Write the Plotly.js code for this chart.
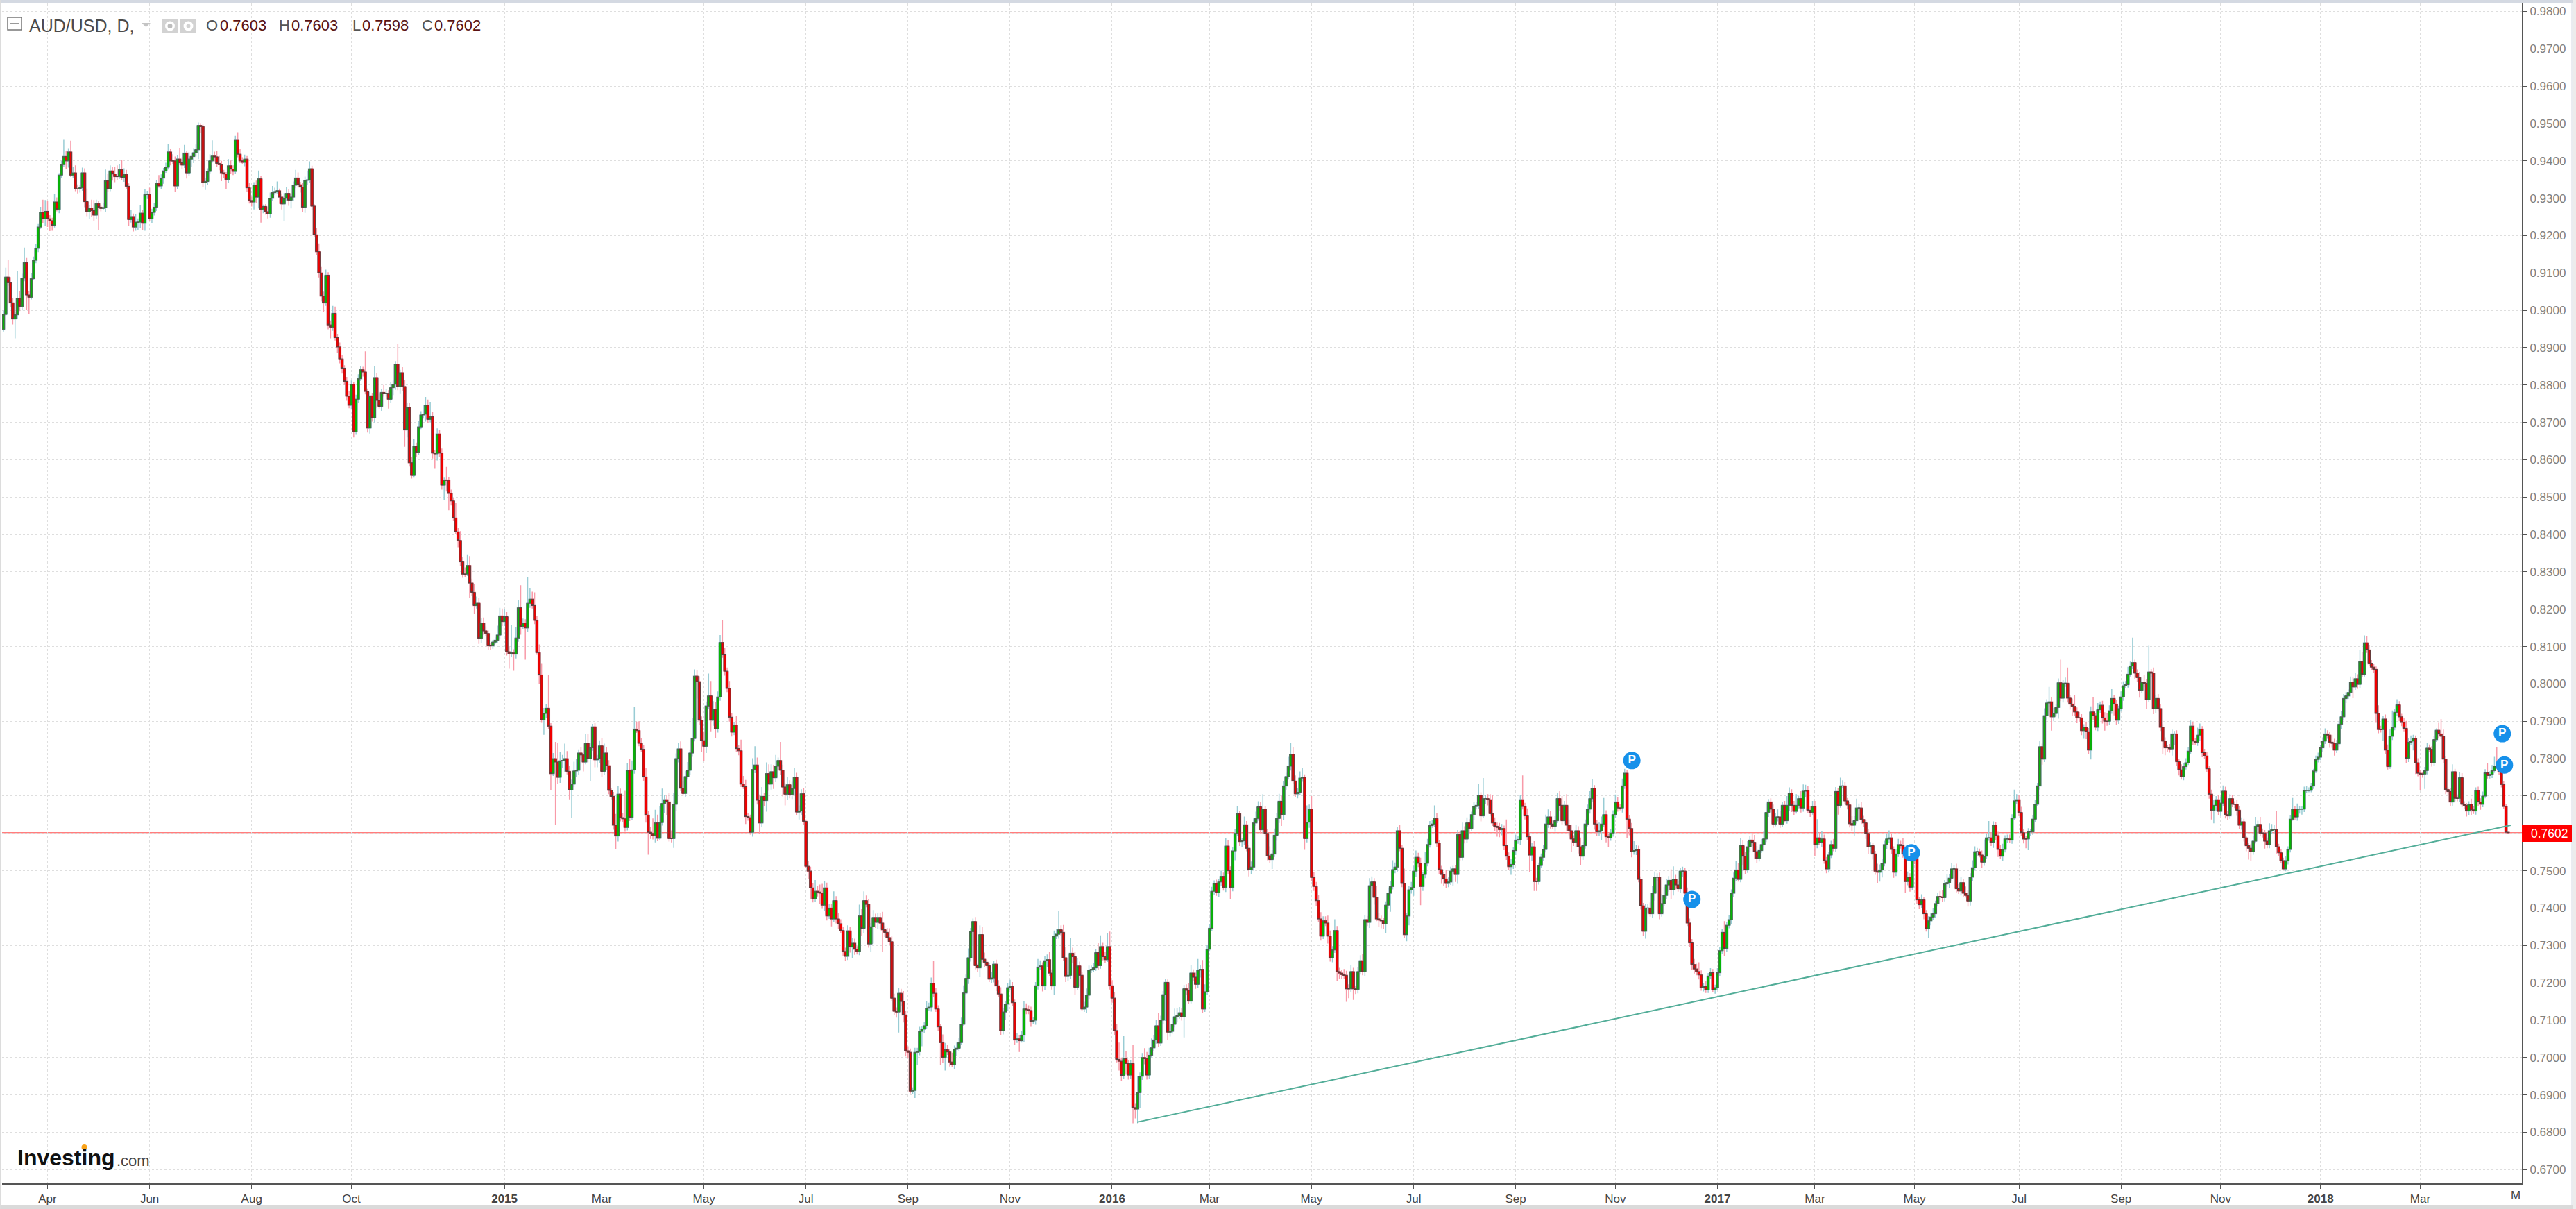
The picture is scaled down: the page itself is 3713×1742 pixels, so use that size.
<!DOCTYPE html>
<html>
<head>
<meta charset="utf-8">
<script src="https://cdn.plot.ly/plotly-3.0.1.min.js"></script>
<style>html,body{margin:0;padding:0;background:#fff;overflow:hidden}</style>
</head>
<body>
<div id="chart" style="width:3713px;height:1742px"></div>
<script>
// Bar number at which each two-month block starts, and its axis label
const blockStart = [0,19,63,107,150,216,258,302,346,390,434,478,520,564,608,652,695,739,781,824,869,913,956,999,1042];
const tickBars = [19,63,107,150,216,258,302,346,390,434,478,520,564,608,652,695,739,781,824,869,913,956,999,1042,1085];
const tickLabels = ["Apr","Jun","Aug","Oct","<b>2015</b>","Mar","May","Jul","Sep","Nov","<b>2016</b>","Mar","May","Jul","Sep","Nov","<b>2017</b>","Mar","May","Jul","Sep","Nov","<b>2018</b>","Mar",""];

// Closes in pips, one inner list per block
const firstOpen = 8949;
const close2014 = [
[8989,9089,9074,9020,8977,8988,9032,9010,9086,9128,9041,9035,9085,9134,9166,9223,9262,9245,9265],
[9245,9240,9228,9290,9270,9362,9390,9412,9400,9424,9362,9368,9325,9325,9328,9368,9291,9264,9274,9267,9255,9286,9276,9273,9275,9347,9325,9373,9365,9358,9358,9377,9356,9364,9332,9243,9251,9223,9236,9236,9260,9233,9310,9310],
[9245,9262,9276,9340,9333,9354,9373,9383,9424,9400,9400,9333,9405,9395,9389,9421,9368,9405,9412,9422,9430,9495,9492,9342,9345,9372,9400,9413,9411,9393,9390,9368,9365,9350,9387,9378,9372,9457,9418,9400,9396,9405,9328,9294],
[9290,9335,9303,9352,9270,9278,9264,9258,9300,9315,9318,9320,9303,9285,9300,9313,9295,9303,9335,9354,9336,9330,9276,9348,9349,9379,9279,9202,9157,9100,9038,9020,9094,8961,8955,8992,8927,8902,8870,8845,8810,8770,8746],
[8802,8675,8762,8817,8841,8835,8783,8685,8771,8712,8820,8759,8743,8780,8777,8778,8762,8793,8802,8856,8796,8833,8796,8680,8740,8592,8558,8636,8620,8688,8720,8722,8746,8708,8715,8618,8616,8669,8618,8532,8546,8545,8510,8490,8444,8407,8384,8327,8294,8294,8317,8270,8245,8210,8216,8122,8163,8142,8135,8102,8102,8112,8117,8131,8182,8167]
];
const close2015 = [
[8180,8086,8081,8083,8080,8123,8204,8154,8163,8150,8216,8227,8210,8170,8084,8024,7904,7921,7935,7887,7760,7800,7791,7750,7794,7795,7800,7766,7716,7732,7767,7769,7815,7810,7791,7841,7800,7829,7885,7797,7800,7834],
[7766,7815,7781,7715,7699,7622,7593,7705,7642,7639,7616,7769,7643,7770,7879,7875,7841,7825,7751,7649,7603,7600,7594,7628,7587,7629,7680,7690,7684,7586,7586,7678,7800,7826,7721,7707,7752,7769,7815,7854,8021,8006,7903,7848],
[7833,7941,7968,7903,7932,7880,7965,8111,8078,8034,7988,7911,7871,7890,7827,7821,7732,7725,7645,7642,7603,7771,7783,7689,7628,7699,7688,7760,7732,7765,7749,7780,7795,7769,7724,7705,7730,7704,7720,7750,7657,7660,7706,7632],
[7512,7499,7454,7425,7445,7443,7440,7408,7454,7379,7400,7371,7420,7371,7358,7340,7284,7271,7339,7296,7306,7290,7284,7379,7346,7420,7410,7304,7350,7375,7362,7375,7360,7342,7335,7321,7310,7159,7124,7122,7172,7150,7114,7018],
[7014,6910,6912,7014,7016,7070,7076,7085,7132,7135,7199,7172,7130,7082,7040,7000,7021,7015,6988,6981,7022,7025,7040,7089,7173,7212,7267,7337,7364,7246,7240,7329,7263,7255,7246,7210,7213,7250,7192,7170,7072,7122,7143,7187],
[7190,7147,7047,7050,7045,7060,7130,7128,7126,7097,7100,7192,7242,7245,7192,7259,7262,7226,7192,7325,7330,7342,7335,7267,7217,7220,7279,7270,7188,7245,7220,7130,7135,7167,7234,7236,7240,7281,7246,7297,7270,7262,7297,7192]
];
const close2016 = [
[7159,7072,6995,6990,6952,6997,6984,6953,6984,6866,6862,6906,6950,7000,6997,6953,7006,7026,7047,7085,7039,7100,7168,7201,7068,7070,7089,7109,7112,7120,7109,7184,7180,7151,7226,7215,7196,7234,7236,7130,7176,7290],
[7346,7445,7466,7441,7470,7485,7455,7566,7500,7455,7553,7600,7653,7578,7580,7623,7560,7503,7510,7628,7640,7671,7610,7665,7600,7540,7530,7545,7595,7640,7686,7650,7727,7752,7780,7812,7740,7706,7710,7748,7750,7586,7630,7665],
[7482,7458,7420,7371,7325,7366,7360,7325,7267,7288,7340,7230,7226,7222,7220,7184,7184,7230,7184,7182,7230,7259,7230,7369,7362,7460,7470,7429,7371,7368,7366,7358,7408,7440,7458,7503,7510,7607,7560,7466,7329,7379,7449,7455],
[7499,7536,7520,7458,7490,7520,7570,7621,7625,7640,7574,7503,7490,7478,7466,7470,7499,7505,7490,7597,7536,7607,7585,7628,7613,7650,7672,7675,7702,7647,7693,7693,7690,7653,7628,7619,7616,7610,7613,7567,7539,7511,7517,7554],
[7582,7583,7690,7672,7647,7591,7542,7564,7471,7471,7514,7536,7557,7625,7644,7625,7619,7634,7693,7675,7634,7675,7622,7607,7585,7576,7607,7564,7539,7567,7625,7665,7693,7721,7625,7604,7607,7625,7650,7591,7588,7601,7650],
[7684,7668,7668,7727,7761,7638,7613,7551,7554,7557,7477,7406,7338,7400,7400,7385,7440,7483,7483,7385,7412,7434,7462,7474,7449,7477,7462,7452,7499,7499,7440,7360,7307,7249,7237,7230,7221,7187,7190,7181,7218,7227,7181,7187]
];
const close2017 = [
[7227,7286,7335,7292,7354,7369,7440,7480,7502,7477,7567,7539,7502,7564,7582,7576,7551,7533,7554,7570,7585,7656,7684,7665,7625,7644,7644,7625,7675,7634,7675,7708,7675,7659,7675,7693,7668,7713,7715,7662,7656,7672],
[7570,7588,7576,7585,7527,7505,7542,7570,7560,7712,7675,7727,7727,7687,7676,7626,7622,7634,7668,7668,7637,7628,7600,7564,7567,7545,7499,7496,7502,7520,7570,7585,7588,7557,7496,7545,7570,7567,7545,7471,7483,7456,7539],
[7533,7422,7409,7422,7385,7345,7366,7376,7385,7412,7431,7430,7428,7465,7468,7480,7505,7505,7452,7446,7468,7440,7434,7419,7483,7508,7551,7551,7542,7523,7539,7588,7588,7576,7622,7594,7557,7539,7557,7585,7585,7582,7641,7687,7690],
[7656,7602,7585,7585,7604,7604,7638,7678,7727,7832,7799,7915,7949,7952,7912,7921,7937,8003,7962,8002,8002,7962,7946,7940,7925,7910,7909,7875,7884,7872,7823,7925,7915,7884,7931,7943,7909,7900,7900,7928,7961,7946,7903,7934],
[7965,7995,7998,8026,8048,8057,8029,8017,7983,8005,8002,7958,8032,8029,7934,7961,7934,7884,7847,7829,7829,7826,7866,7866,7792,7770,7752,7779,7789,7820,7887,7847,7844,7863,7879,7816,7807,7773,7705,7662,7675,7690,7659],
[7681,7713,7650,7647,7693,7678,7678,7662,7622,7631,7588,7567,7560,7551,7579,7619,7624,7601,7601,7579,7570,7607,7610,7610,7564,7548,7527,7505,7527,7557,7638,7665,7644,7665,7665,7665,7715,7715,7715,7727,7767,7798,7804]
];
const close2018 = [
[7829,7847,7866,7863,7844,7841,7823,7840,7892,7912,7961,7968,7977,8005,7992,8014,7999,8060,8026,8110,8091,8054,8045,8039,7921,7878,7878,7906,7823,7779,7860,7884,7924,7944,7912,7897,7881,7801,7844,7847,7854,7789,7761],
[7759,7759,7768,7828,7825,7789,7851,7876,7866,7860,7799,7717,7712,7684,7765,7694,7694,7749,7678,7675,7660,7678,7663,7660,7715,7684,7678,7700,7762,7755,7758,7768,7780,7777,7765,7731,7672,7603,7602]
];

// Wick lengths above and below each body, in pips
const upper2014 = [
[10,25,45,15,12,8,74,20,12,40,12,10,15,10,12,8,15,34,30],
[28,10,8,22,12,5,10,46,14,10,30,15,20,12,8,14,12,35,8,22,28,10,8,6,12,30,18,15,10,18,30,14,25,16,12,8,18,8,22,10,22,8,15,10],
[18,10,12,8,22,10,8,12,22,8,18,12,10,30,15,22,5,18,10,12,14,8,6,5,10,8,18,42,12,15,20,10,8,5,18,14,10,10,20,15,10,12,8,14],
[10,8,12,22,8,5,6,14,15,18,10,25,6,10,14,16,12,8,10,22,15,8,12,10,25,20,8,5,18,22,18,12,15,8,12,20,18,10,12,10,8,12,15],
[10,6,12,12,10,8,55,8,10,8,30,12,18,10,20,12,8,15,10,8,55,8,15,18,12,12,15,20,10,15,10,25,22,15,40,12,8,15,10,12,6,35,8,10,8,40,10,25,12,18,30,25,12,22,18,15,14,15,12,8,6,6,8,25,22,20]
];
const lower2014 = [
[6,5,8,12,15,52,10,12,10,8,40,45,6,5,8,10,5,12,18],
[22,28,15,6,5,10,8,6,22,18,5,8,6,12,10,8,15,12,20,18,15,10,60,8,5,12,8,6,18,15,10,6,8,12,8,18,8,12,10,22,15,18,20,12],
[6,12,8,10,5,8,15,5,6,12,8,15,8,6,10,8,15,8,22,18,10,25,18,12,20,10,6,5,12,8,15,22,10,25,8,12,10,6,8,6,5,10,12,8],
[12,20,15,30,35,10,8,12,10,8,6,5,18,15,45,8,15,22,10,8,6,15,12,15,12,8,10,5,10,12,14,25,8,12,30,10,8,15,12,14,10,12,8],
[12,15,8,10,6,12,8,12,15,10,12,20,6,12,8,8,25,10,20,15,10,18,12,45,20,10,8,6,12,8,6,10,20,10,8,15,40,18,10,12,40,30,45,12,8,6,18,12,10,8,5,40,10,22,8,15,12,10,8,10,12,8,5,6,10,12]
];
const upper2015 = [
[20,12,15,75,10,30,20,60,12,10,70,30,20,35,12,22,30,15,10,90,8,15,45,50,25,15,40,20,15,12,25,30,10,15,30,25,25,12,8,10,10,15],
[22,25,15,15,6,12,30,22,15,12,75,20,30,25,60,20,25,15,12,25,10,15,40,35,22,45,40,12,12,25,22,30,14,15,20,20,15,22,10,55,18,15,15,10],
[25,12,60,40,22,20,15,20,60,18,10,20,12,8,25,10,30,22,18,10,8,30,50,20,15,25,10,30,25,20,18,30,8,50,15,10,20,12,18,25,12,15,12,15],
[5,15,12,12,30,15,20,25,18,14,12,10,25,12,15,12,10,10,15,10,15,12,8,30,18,25,14,15,10,20,10,12,12,30,10,12,25,14,12,10,15,12,28,12],
[12,10,8,12,10,12,8,10,20,12,15,60,14,10,8,22,18,12,8,25,10,15,12,18,20,10,25,10,8,12,5,25,20,18,6,8,15,8,12,15,18,10,8,12],
[18,12,8,15,10,10,22,15,12,10,8,10,22,15,10,12,14,20,10,15,15,50,12,20,30,8,40,15,12,20,12,10,14,18,12,10,12,10,25,30,10,12,35,40]
];
const lower2015 = [
[12,10,40,8,45,12,10,22,8,85,10,12,8,10,6,25,8,40,12,8,45,6,168,18,15,20,30,8,25,75,8,15,12,8,25,6,10,60,8,20,20,12],
[15,10,12,10,8,12,35,15,10,8,12,8,10,8,10,6,8,8,10,20,60,15,10,18,8,6,8,25,35,8,10,25,18,10,8,6,10,8,12,10,8,45,12,30],
[40,18,8,30,15,25,10,10,8,12,10,12,12,8,10,12,8,6,20,8,6,12,10,12,30,10,15,30,18,15,30,12,10,12,25,30,15,10,12,18,8,20,12,10],
[5,20,30,10,8,12,30,10,15,12,8,20,8,12,15,8,12,12,10,15,30,15,8,10,20,12,8,10,20,45,15,18,15,60,12,8,8,8,10,15,55,12,20,15],
[15,6,8,20,35,10,40,10,8,6,12,10,8,10,60,15,35,8,12,6,12,18,8,5,6,6,15,10,35,10,12,25,8,12,6,8,10,12,14,8,12,10,22,18],
[6,10,12,8,30,5,18,12,10,15,8,12,10,8,15,12,18,8,10,25,8,12,10,8,15,12,10,18,20,8,30,5,8,15,10,8,6,8,12,8,10,8,6,10]
];
const upper2016 = [
[15,15,18,45,10,60,20,10,8,50,12,45,10,12,25,18,20,25,12,15,35,12,10,10,8,10,20,22,20,15,12,10,12,20,22,10,12,30,12,25,20,12],
[10,12,8,10,8,15,10,22,15,12,10,12,20,8,8,22,10,8,15,12,18,15,12,40,8,12,25,10,18,15,20,15,12,10,25,30,20,15,12,18,25,8,45,12],
[35,15,12,15,18,12,12,20,15,10,30,12,10,8,15,12,12,18,10,8,12,15,18,12,10,20,15,10,30,15,12,8,10,15,14,25,12,10,15,10,40,8,10,15],
[14,18,12,15,8,30,15,12,10,35,15,8,10,6,25,12,12,8,10,12,8,22,12,15,10,8,12,8,30,8,55,10,12,15,50,15,10,12,12,8,70,10,15,10],
[15,10,12,65,10,20,12,10,15,10,8,10,12,25,20,15,10,12,15,20,25,12,30,15,15,10,15,12,25,10,12,12,20,25,8,10,22,20,45,12,8,10,12],
[20,12,10,20,12,8,10,15,25,12,10,8,8,12,10,15,20,15,10,12,25,22,15,12,30,35,12,10,8,12,8,15,12,10,15,14,25,12,10,15,8,12,10,8]
];
const lower2016 = [
[12,12,8,25,15,10,30,12,10,42,25,38,40,10,15,12,10,6,8,10,10,8,10,70,20,12,6,8,15,8,10,55,12,8,6,10,12,10,20,10,8,8],
[5,8,10,8,12,10,8,12,10,30,10,25,8,12,15,10,8,18,12,10,8,6,10,12,8,12,10,25,8,15,12,30,15,10,8,12,8,10,12,8,10,30,10,15],
[10,12,15,8,12,8,8,20,10,12,8,25,15,12,10,35,25,10,30,12,10,8,10,12,10,15,8,20,6,18,20,15,25,10,50,8,10,12,8,10,8,18,25,10],
[22,15,10,50,12,10,8,8,6,8,10,12,25,18,12,10,8,40,20,25,10,8,12,10,12,6,15,8,10,15,6,14,15,6,8,12,25,20,15,12,10,8,22,12],
[12,10,15,8,10,8,45,15,25,25,8,6,10,8,10,12,8,15,6,15,10,8,15,12,35,10,12,18,25,10,8,6,12,10,15,12,10,25,8,15,25,8,10],
[8,10,6,12,8,50,18,15,8,12,8,10,12,20,15,8,12,20,10,15,8,6,10,18,25,15,12,8,12,15,10,8,12,15,12,10,12,8,10,8,8,8,6,10]
];
const upper2017 = [
[12,10,10,30,8,12,10,15,25,18,20,15,12,15,10,18,20,15,8,15,20,25,8,10,12,10,20,15,8,12,25,15,10,12,30,8,20,18,15,12,10,15],
[15,50,15,20,12,10,8,10,15,12,10,22,15,10,8,8,20,12,25,12,15,10,8,12,10,8,8,20,15,12,10,15,20,10,8,12,15,10,20,12,15,10,18],
[10,12,8,15,8,10,12,10,15,8,10,15,18,10,22,12,15,10,14,12,15,10,18,15,10,20,14,10,8,12,45,12,45,15,10,8,10,12,15,10,12,12,10,30,15],
[12,15,10,8,10,8,10,12,8,15,8,20,10,40,12,15,10,12,62,8,15,42,8,15,30,12,15,10,8,15,10,15,40,8,18,10,12,15,22,15,25,10,12,8],
[15,12,10,20,12,67,8,10,15,12,18,12,70,8,15,10,12,12,8,10,8,10,12,8,10,8,15,10,12,10,15,10,8,20,15,8,10,12,8,12,15,10,12],
[15,15,12,10,12,10,8,12,10,12,8,6,8,12,15,25,10,20,12,8,10,20,15,12,50,8,10,8,12,8,10,30,8,15,8,8,10,12,8,8,6,10,12]
];
const lower2017 = [
[6,10,8,20,10,8,12,10,8,6,8,25,10,8,15,10,20,12,8,6,5,8,12,8,10,6,12,10,8,5,8,15,18,10,6,8,12,10,15,8,12,6],
[30,10,8,12,8,12,10,8,8,10,25,6,5,8,12,10,15,30,8,6,12,10,15,20,18,15,10,30,25,20,8,12,10,12,15,10,8,8,10,30,10,12,8],
[15,10,12,10,15,8,25,12,8,10,8,10,12,10,8,15,6,10,10,8,12,10,6,15,12,10,8,12,6,15,10,8,8,10,15,12,20,8,12,8,10,8,10,6,8],
[10,8,12,25,30,12,8,8,6,10,15,8,10,10,37,12,8,30,8,12,10,12,15,25,10,15,10,12,22,20,10,25,12,8,10,8,15,25,12,10,8,30,12,10],
[8,10,6,8,6,8,15,12,20,8,10,25,6,10,15,12,8,10,35,20,12,10,18,30,12,15,8,10,8,6,8,10,8,10,15,12,8,10,12,25,35,15,10],
[12,8,10,12,8,8,10,15,10,12,10,15,30,25,8,6,10,8,12,20,10,10,8,12,18,8,6,4,6,10,8,4,8,10,12,15,8,6,5,5,8,6,8]
];
const upper2018 = [
[8,10,15,10,8,20,12,10,8,15,12,10,8,15,12,15,12,30,25,20,18,12,10,8,8,22,10,8,12,15,20,45,10,15,10,8,12,20,12,15,10,8,12],
[8,6,10,15,10,8,10,5,20,40,18,8,6,10,20,8,10,15,12,8,6,8,15,10,8,10,10,12,10,25,8,15,25,50,8,10,8,6,0]
];
const lower2018 = [
[8,10,8,10,15,12,15,8,10,12,10,12,8,10,30,8,12,10,8,6,8,6,8,10,25,10,8,30,10,8,6,10,8,10,12,10,8,12,10,8,25,30,8],
[43,10,40,10,8,10,8,6,10,8,10,12,8,12,10,8,8,10,8,10,15,12,15,8,10,12,15,8,6,8,8,10,6,4,8,8,6,5,4]
];

// Trend line and "P" marks
const trendBars = [488.8,1081];
const trendPrices = [0.6827,0.7622];
const markBars = [702.1,728,822.6,1077.4,1078.3];
const markPrices = [0.7795,0.7423,0.7548,0.7867,0.7783];

const closeBlocks = [].concat(close2014,close2015,close2016,close2017,close2018);
const upperBlocks = [].concat(upper2014,upper2015,upper2016,upper2017,upper2018);
const lowerBlocks = [].concat(lower2014,lower2015,lower2016,lower2017,lower2018);

const bars=[],opens=[],closes=[],highs=[],lows=[],bodyHigh=[],bodyLow=[];
let prev = firstOpen;
closeBlocks.forEach((block,k)=>{
  block.forEach((c,j)=>{
    const o=prev, top=Math.max(o,c), bot=Math.min(o,c);
    bars.push(blockStart[k]+j);
    opens.push(o/1e4); closes.push(c/1e4);
    bodyHigh.push(top/1e4); bodyLow.push(bot/1e4);
    highs.push((top+(upperBlocks[k][j]||0))/1e4);
    lows.push((bot-(lowerBlocks[k][j]||0))/1e4);
    prev=c;
  });
});
const lastPrice = closes[closes.length-1];

const L=3,R=3635,T=5,B=1705;
const fx=p=>(p-L)/(R-L), fy=p=>(B-p)/(B-T);
const rect=(x0,y0,x1,y1,fill,line,lw)=>({type:'rect',xref:'paper',yref:'paper',x0:fx(x0),x1:fx(x1),y0:fy(y0),y1:fy(y1),fillcolor:fill||'rgba(0,0,0,0)',line:{color:line||'rgba(0,0,0,0)',width:lw||0},layer:'above'});
const circ=(cx,cy,r,fill)=>({type:'circle',xref:'paper',yref:'paper',x0:fx(cx-r),x1:fx(cx+r),y0:fy(cy-r),y1:fy(cy+r),fillcolor:fill,line:{width:0},layer:'above'});
const seg=(x0,y0,x1,y1,c,w)=>({type:'line',xref:'paper',yref:'paper',x0:fx(x0),x1:fx(x1),y0:fy(y0),y1:fy(y1),line:{color:c,width:w},layer:'above'});
const note=(px,py,text,size,color,anchor,family)=>({xref:'paper',yref:'paper',x:fx(px),y:fy(py),text:text,showarrow:false,xanchor:anchor||'left',yanchor:'middle',borderpad:0,
  font:{family:family||'"Liberation Sans",Arial,sans-serif',size:size,color:color}});

const shapes=[
  {type:'line',xref:'paper',yref:'y',x0:0,x1:1,y0:lastPrice,y1:lastPrice,line:{color:'#ff7d7d',width:1.5},layer:'below'},
  rect(0,0,3713,4,'#d4d9e2'),
  rect(0,1736,3713,1742,'#dadada'),
  rect(0,0,2,1742,'#dcdcdc'),
  rect(3708,0,3713,1742,'#ececec'),
  seg(3707,4,3707,1736,'#d4d9e2',1),
  rect(11,25,31,43,'#ffffff','#777777',1.5),
  seg(14,34,28,34,'#777777',1.5),
  {type:'path',xref:'paper',yref:'paper',path:`M ${fx(204)} ${fy(33)} L ${fx(217)} ${fy(33)} L ${fx(210.5)} ${fy(39)} Z`,fillcolor:'#c4c4c4',line:{width:0},layer:'above'},
  rect(234,27,256,48,'#d2d2d2'),circ(245,37.5,7,'#ffffff'),circ(245,37.5,3.5,'#bdbdbd'),
  rect(260,27,283,48,'#d2d2d2'),circ(271.5,37.5,7,'#ffffff'),circ(271.5,37.5,3,'#d2d2d2'),
  rect(3635,1188,3707,1213,'#ff0000'),
  circ(121.5,1653,4,'#f9a31a')
];
const annotations=[
  note(41,37,'AUD/USD, D,',25,'#4a4a4a'),
  note(296,37,'O',22,'#555555'),note(316,37,'0.7603',22,'#5a1212'),
  note(401,37,'H',22,'#555555'),note(419,37,'0.7603',22,'#5a1212'),
  note(507,37,'L',22,'#555555'),note(521,37,'0.7598',22,'#5a1212'),
  note(607,37,'C',22,'#555555'),note(625,37,'0.7602',22,'#5a1212'),
  note(24,1668,'<b>Investing</b>',32,'#111111'),
  note(167,1672,'.com',22,'#444444'),
  note(3647,1201,'0.7602',17.5,'#ffffff'),
  note(3618,1723,'M',17,'#444444')
];

const wicks={type:'candlestick',x:bars,open:opens,high:highs,low:lows,close:closes,
  increasing:{line:{color:'#98ccd4',width:1.5},fillcolor:'rgba(0,0,0,0)'},
  decreasing:{line:{color:'#f89aa8',width:1.5},fillcolor:'rgba(0,0,0,0)'},
  hoverinfo:'skip',showlegend:false};
const bodies={type:'candlestick',x:bars,open:opens,high:bodyHigh,low:bodyLow,close:closes,
  increasing:{line:{color:'#4f5f4f',width:1},fillcolor:'#06b406'},
  decreasing:{line:{color:'#5c3c3c',width:1},fillcolor:'#f00000'},
  hoverinfo:'skip',showlegend:false};
const trend={type:'scatter',mode:'lines',x:trendBars,y:trendPrices,line:{color:'#52ad98',width:2},hoverinfo:'skip',showlegend:false};
const marks={type:'scatter',mode:'markers+text',x:markBars,y:markPrices,text:markBars.map(()=>'<b>P</b>'),textposition:'middle center',
  textfont:{family:'"Liberation Sans",Arial,sans-serif',size:17,color:'#ffffff'},
  marker:{size:25,color:'#1690ea',line:{width:0}},hoverinfo:'skip',showlegend:false};

const gridColor='#dedede';
const layout={
  width:3713,height:1742,
  margin:{l:L,r:3713-R,t:T,b:1742-B,pad:0},
  paper_bgcolor:'#ffffff',plot_bgcolor:'#ffffff',
  showlegend:false,
  boxgap:0,boxgroupgap:0,boxmode:'overlay',
  font:{family:'"Liberation Sans",Arial,sans-serif'},
  xaxis:{type:'linear',range:[-0.6,1085.84],rangeslider:{visible:false},tickmode:'array',tickvals:tickBars,ticktext:tickLabels,
    showgrid:true,gridcolor:gridColor,griddash:'dot',gridwidth:1,zeroline:false,
    showline:true,linecolor:'#555555',linewidth:2,ticks:'outside',ticklen:6,tickcolor:'#555555',tickwidth:1,
    tickfont:{size:17,color:'#444444',family:'"Liberation Sans",Arial,sans-serif'},tickangle:0,fixedrange:true},
  yaxis:{type:'linear',range:[0.66633,0.98214],side:'right',dtick:0.01,tick0:0,tickformat:'.4f',
    showgrid:true,gridcolor:gridColor,griddash:'dot',gridwidth:1,zeroline:false,
    showline:true,linecolor:'#555555',linewidth:2,ticks:'outside',ticklen:6,tickcolor:'#555555',tickwidth:1,
    tickfont:{size:17,color:'#808080',family:'"Liberation Sans",Arial,sans-serif'},fixedrange:true},
  shapes:shapes,annotations:annotations
};
Plotly.newPlot('chart',[wicks,bodies,trend,marks],layout,{displayModeBar:false,staticPlot:true});
</script>
</body>
</html>
